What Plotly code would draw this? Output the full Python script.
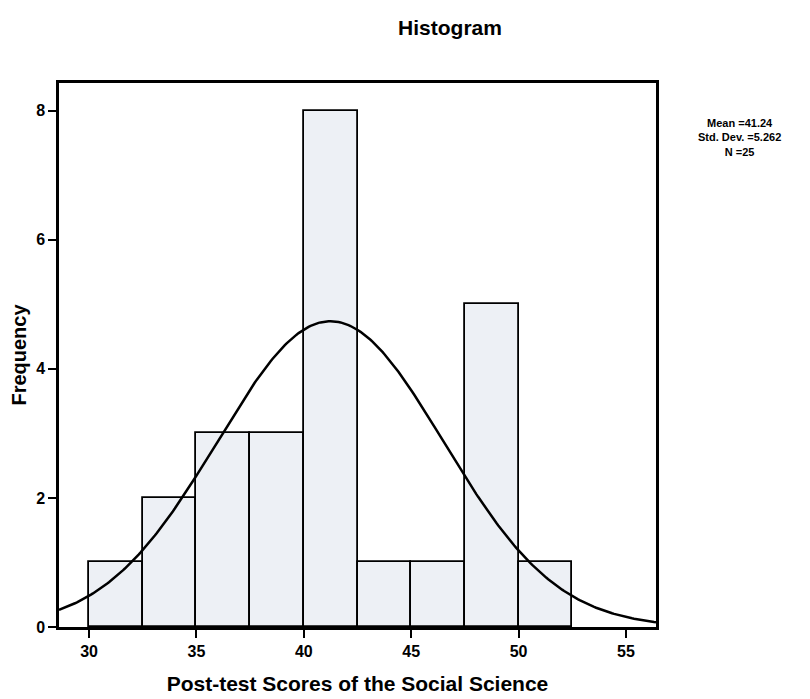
import numpy as np
import plotly.graph_objects as go

bin_starts = [30, 32.5, 35, 37.5, 40, 42.5, 45, 47.5, 50]
counts = [1, 2, 3, 3, 8, 1, 1, 5, 1]
bin_width = 2.5
mean = 41.24
sd = 5.262
n = 25

centers = [s + bin_width / 2 for s in bin_starts]

x_lo, x_hi = 28.6, 56.4
xc = np.linspace(x_lo, x_hi, 300)
yc = n * bin_width / (sd * np.sqrt(2 * np.pi)) * np.exp(-0.5 * ((xc - mean) / sd) ** 2)

font = "Liberation Sans, Arial, sans-serif"

fig = go.Figure()
fig.add_trace(go.Bar(x=centers, y=counts, width=bin_width,
                     marker=dict(color="#edf0f5", line=dict(color="black", width=1.8)),
                     showlegend=False))
fig.add_trace(go.Scatter(x=xc, y=yc, mode="lines",
                         line=dict(color="black", width=2.5), showlegend=False))

fig.update_layout(
    width=810, height=699,
    margin=dict(l=51, r=162, t=75, b=80),
    paper_bgcolor="white", plot_bgcolor="white",
    bargap=0,
    title=dict(text="<b>Histogram</b>", x=442 / 810, xanchor="center", y=1 - 20 / 699,
               yanchor="middle", font=dict(family=font, size=21, color="black")),
    xaxis=dict(range=[x_lo, x_hi], tickvals=[30, 35, 40, 45, 50, 55],
               ticks="outside", ticklen=8, tickwidth=2, tickcolor="black",
               showgrid=False, zeroline=False, showline=True, linecolor="black", linewidth=2.5,
               mirror=True, automargin=False,
               tickfont=dict(family=font, size=16, color="black", weight="bold"),
               title=dict(text="<b>Post-test Scores of the Social Science</b>",
                          font=dict(family=font, size=21, color="black"), standoff=18)),
    yaxis=dict(range=[0, 8.43], tickvals=[0, 2, 4, 6, 8],
               ticks="outside", ticklen=8, tickwidth=2, tickcolor="black",
               showgrid=False, zeroline=False, showline=True, linecolor="black", linewidth=2.5,
               mirror=True, automargin=False,
               tickfont=dict(family=font, size=16, color="black", weight="bold"),
               title=dict(text="<b>Frequency</b>",
                          font=dict(family=font, size=20, color="black"), standoff=12)),
    annotations=[dict(text=f"<b>Mean ={mean}<br>Std. Dev. ={sd}<br>N ={n}</b>",
                      xref="paper", yref="paper", x=1.1407, y=0.899,
                      xanchor="center", yanchor="middle", showarrow=False,
                      font=dict(family=font, size=11, color="black"))],
)

fig.write_html("out.html")
